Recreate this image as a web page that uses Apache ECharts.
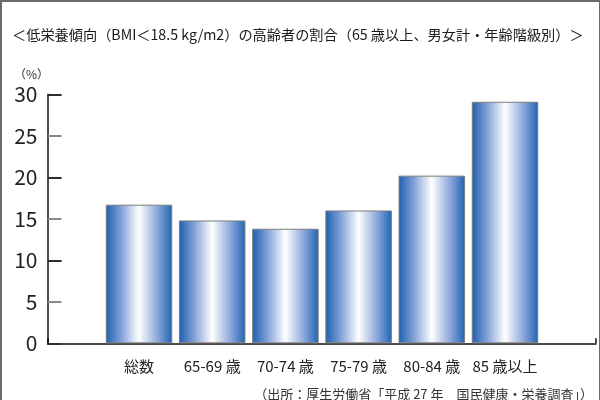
<!DOCTYPE html>
<html><head><meta charset="utf-8">
<script src="https://cdn.jsdelivr.net/npm/echarts@6/dist/echarts.min.js"></script>
<style>
html,body{margin:0;padding:0;background:#fff;}
#frame{position:absolute;left:0;top:0;width:600px;height:400px;box-sizing:border-box;border-left:2px solid #6a6a6a;border-top:2px solid #6a6a6a;border-right:1px solid #6a6a6a;}
#c{position:absolute;left:0;top:0;width:600px;height:400px;}
</style></head>
<body><div id="c"></div><div id="frame"></div>
<script>
const titleText = '＜低栄養傾向（BMI＜18.5 kg/m2）の高齢者の割合（65 歳以上、男女計・年齢階級別）＞';
const unitText = '（%）';
const sourceText = '（出所：厚生労働省「平成 27 年　国民健康・栄養調査」）';
const categories = ['総数', '65-69 歳', '70-74 歳', '75-79 歳', '80-84 歳', '85 歳以上'];
const values = [16.7, 14.8, 13.8, 16.0, 20.2, 29.1];
const yMin = 0, yMax = 30, yStep = 5, yMajor = 10;

const FONT = '"Noto Sans CJK JP", "Noto Sans", sans-serif';
const chart = echarts.init(document.getElementById('c'), null, {renderer: 'canvas'});
const barGrad = new echarts.graphic.LinearGradient(0, 0, 1, 0, [
  {offset: 0, color: '#1c60ae'},
  {offset: 0.22, color: '#7e9dd6'},
  {offset: 0.5, color: '#ffffff'},
  {offset: 0.78, color: '#8ba6db'},
  {offset: 1, color: '#1f64b2'}
]);
const gTop = 94.3, gBottom = 56.7;
chart.setOption({
  animation: false,
  backgroundColor: '#fff',
  title: [
    {text: titleText, left: 7, top: 23, textStyle: {fontFamily: FONT, fontSize: 14.2, fontWeight: 'normal', color: '#1a1a1a'}},
    {text: unitText, left: 9, top: 63, textStyle: {fontFamily: FONT, fontSize: 12, fontWeight: 'normal', color: '#333'}},
    {text: sourceText, right: 2, top: 383, textStyle: {fontFamily: FONT, fontSize: 13, fontWeight: 'normal', color: '#333'}}
  ],
  grid: [
    {left: 47.5, right: 4, top: gTop, bottom: gBottom},
    {left: 102.4, width: 439.2, top: gTop, bottom: gBottom}
  ],
  xAxis: [
    {gridIndex: 0, type: 'value', min: 0, max: 1, interval: 1,
     axisLine: {show: true, onZero: false, lineStyle: {color: '#111', width: 1.5}},
     axisTick: {show: true, inside: true, length: 5, lineStyle: {color: '#111', width: 1.5}},
     axisLabel: {show: false}, splitLine: {show: false}},
    {gridIndex: 1, type: 'category', data: categories,
     axisLine: {show: false}, axisTick: {show: false},
     axisLabel: {interval: 0, margin: 15, fontFamily: FONT, fontSize: 15, color: '#222'}}
  ],
  yAxis: [
    {gridIndex: 0, type: 'value', min: yMin, max: yMax, interval: yStep,
     axisLine: {show: true, lineStyle: {color: '#111', width: 1.5}},
     axisTick: {show: true, inside: true, length: 14, lineStyle: {color: '#8a8a8a', width: 2}},
     axisLabel: {margin: 10, fontFamily: FONT, fontSize: 21, color: '#222'},
     splitLine: {show: false}},
    {gridIndex: 0, type: 'value', position: 'left', min: yMin, max: yMax, interval: yMajor,
     axisLine: {show: false},
     axisTick: {show: true, inside: true, length: 14, lineStyle: {color: '#111', width: 1.5}},
     axisLabel: {show: false}, splitLine: {show: false}},
    {gridIndex: 1, type: 'value', min: yMin, max: yMax, show: false}
  ],
  series: [{
    type: 'bar', xAxisIndex: 1, yAxisIndex: 2, data: values, barWidth: 66.5,
    itemStyle: {color: barGrad, borderColor: '#7c7c7c', borderWidth: 1}
  }]
});
</script></body></html>
